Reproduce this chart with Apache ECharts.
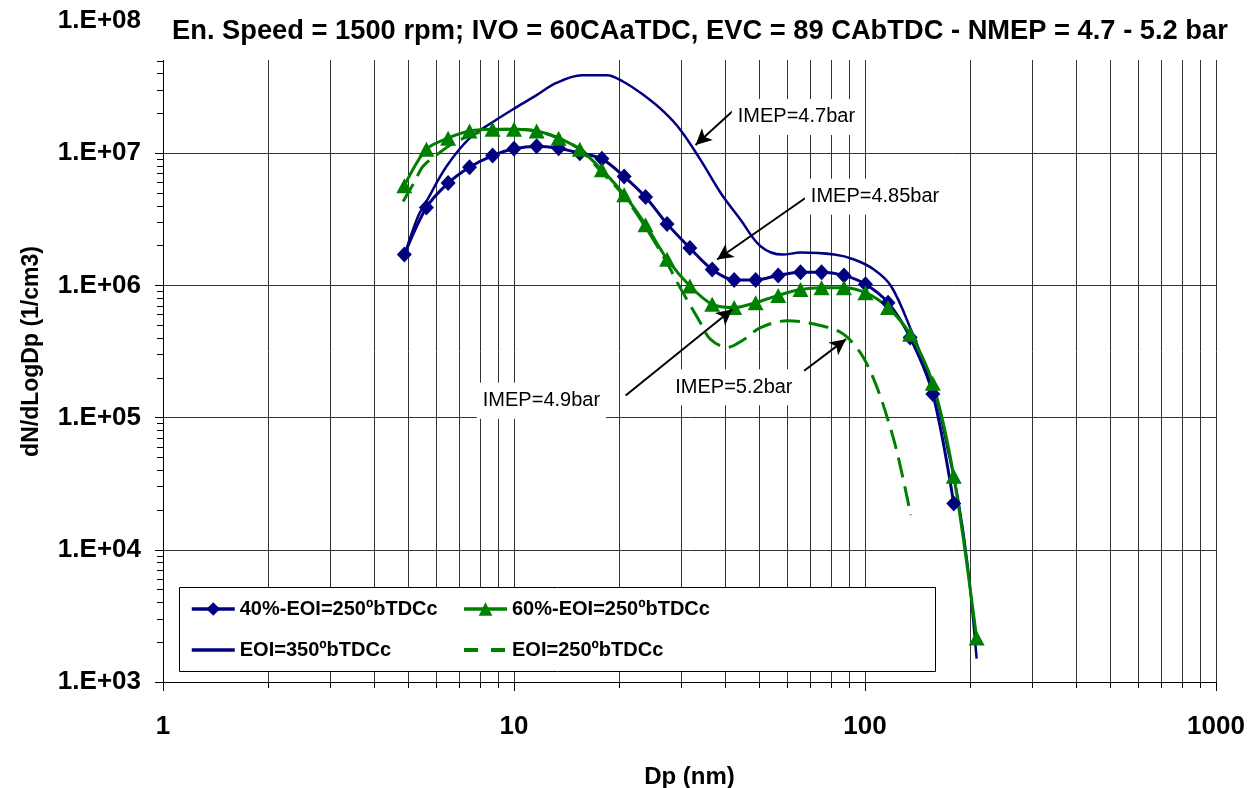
<!DOCTYPE html>
<html><head><meta charset="utf-8">
<script src="https://cdn.jsdelivr.net/npm/echarts@6/dist/echarts.min.js"></script>
<style>html,body{margin:0;padding:0;background:#fff}#c{width:1252px;height:788px}</style>
</head><body><div id="c"></div>
<script>
// ---- data ----
const titleText = 'En. Speed = 1500 rpm; IVO = 60CAaTDC, EVC = 89 CAbTDC - NMEP = 4.7 - 5.2 bar';
const seriesNames = ['40%-EOI=250ºbTDCc', '60%-EOI=250ºbTDCc', 'EOI=350ºbTDCc', 'EOI=250ºbTDCc'];
const channels = [4.87,5.63,6.49,7.47,8.69,10.0,11.6,13.4,15.4,17.8,20.6,23.7,27.3,31.7,36.7,42.4,48.8,56.6,65.5,75.2,87.1,100.3,116.3,134.5,156,179,208];
const diamondY = [1.71e6,3.89e6,5.94e6,7.84e6,9.6e6,1.08e7,1.13e7,1.09e7,1.0e7,9.06e6,6.66e6,4.66e6,2.92e6,1.92e6,1.32e6,1.1e6,1.1e6,1.19e6,1.26e6,1.26e6,1.19e6,1.02e6,7.4e5,4.03e5,1.51e5,2.24e4];
const triangleY = [5.67e6,1.07e7,1.3e7,1.47e7,1.52e7,1.52e7,1.47e7,1.3e7,1.07e7,7.48e6,4.85e6,2.88e6,1.58e6,9.9e5,7.19e5,6.8e5,7.4e5,8.4e5,9.3e5,9.6e5,9.6e5,8.8e5,6.8e5,4.27e5,1.82e5,3.6e4,2.15e3];
const eoi350X = [4.88,5.33,5.63,6.42,7.48,8.73,10.2,11.6,13.2,15.6,18.4,20.5,23.4,26.7,29.8,34.0,38.8,44.2,50.4,58.2,65.6,81.7,93.1,106,118.6,135,158,172,184,196,208];
const eoi350Y = [1.71e6,3.33e6,4.32e6,7.93e6,1.3e7,1.73e7,2.24e7,2.75e7,3.4e7,3.89e7,3.89e7,3.47e7,2.75e7,2.06e7,1.5e7,8.9e6,5.0e6,3.14e6,1.98e6,1.71e6,1.77e6,1.71e6,1.57e6,1.32e6,9.9e5,4.66e5,1.55e5,5.8e4,2.45e4,7.7e3,1.5e3];
const eoi250X = [4.83,5.21,5.5,6.01,7.0,8.69,10.0,11.6,13.4,15.4,17.6,20.5,23.6,27.2,29.2,31.1,34.0,36.3,40.5,45.2,50.4,60.1,71.6,85.4,95.3,101.8,108.7,116,124,135];
const eoi250Y = [4.32e6,6.1e6,7.93e6,9.7e6,1.26e7,1.5e7,1.52e7,1.47e7,1.3e7,1.07e7,7.4e6,4.8e6,2.8e6,1.5e6,1.05e6,7.8e5,5.2e5,3.9e5,3.4e5,3.9e5,4.8e5,5.4e5,5.1e5,4.4e5,3.3e5,2.47e5,1.64e5,9.8e4,5.2e4,1.83e4];
const annotationTexts = ['IMEP=4.7bar', 'IMEP=4.85bar', 'IMEP=4.9bar', 'IMEP=5.2bar'];
const annotationTextAt = [[43.4,1.88e7],[70.1,4.69e6],[8.15,1.34e5],[28.8,1.70e5]];
const annotationTail = [[42.3,2.12e7],[67.8,4.6e6],[20.8,1.47e5],[67.1,2.26e5]];
const annotationHead = [[32.9,1.155e7],[37.9,1.57e6],[41.9,6.6e5],[88.3,3.92e5]];
const xName = 'Dp (nm)';
const yName = 'dN/dLogDp (1/cm3)';

// ---- chart ----
const FONT = "'Liberation Sans', Arial, sans-serif";
const NAVY = '#000080', GREEN = '#008000';
const zip = (xs, ys) => ys.map((y, i) => [xs[i], y]);

const chart = echarts.init(document.getElementById('c'), null, {renderer: 'canvas'});
const legendText = {fontSize: 20, fontWeight: 'bold', fontFamily: FONT, color: '#000', lineHeight: 24};
const noSymbol = {color: 'rgba(0,0,0,0)', borderWidth: 0, opacity: 0};
const legendCommon = {orient: 'vertical', top: 597, itemWidth: 43, itemHeight: 17, itemGap: 17,
  textStyle: legendText, z: 6, padding: 0};
const option = {
  animation: false,
  backgroundColor: '#fff',
  title: {text: titleText, left: 167, top: 13, z: 20,
    textStyle: {fontSize: 27.3, fontWeight: 'bold', fontFamily: FONT, color: '#000'}},
  grid: {left: 163, right: 36, top: 21, bottom: 106, containLabel: false, outerBoundsMode: 'none'},
  legend: [
    Object.assign({}, legendCommon, {left: 190, data: [
      {name: seriesNames[0], lineStyle: {width: 3.5}},
      {name: seriesNames[2], lineStyle: {width: 3.5}, itemStyle: noSymbol}]}),
    Object.assign({}, legendCommon, {left: 462, data: [
      {name: seriesNames[1], lineStyle: {width: 3.5}},
      {name: seriesNames[3], lineStyle: {width: 4, type: [14, 13]}, itemStyle: noSymbol}]})
  ],
  xAxis: {
    type: 'log', logBase: 10, min: 1, max: 1000,
    name: xName, nameLocation: 'middle', nameGap: 83,
    nameTextStyle: {fontSize: 24, fontWeight: 'bold', fontFamily: FONT, color: '#000'},
    axisLine: {show: true, lineStyle: {color: '#000', width: 1}},
    axisTick: {show: true, inside: false, length: 9, lineStyle: {color: '#000'}},
    minorTick: {show: true, splitNumber: 9, length: 6, lineStyle: {color: '#000'}},
    splitLine: {show: true, lineStyle: {color: '#333', width: 1}},
    minorSplitLine: {show: true, lineStyle: {color: '#333', width: 1}},
    axisLabel: {margin: 32, fontSize: 26, fontWeight: 'bold', fontFamily: FONT, color: '#000',
      formatter: v => String(Math.round(v))}
  },
  yAxis: {
    type: 'log', logBase: 10, min: 1e3, max: 1e8,
    name: yName, nameLocation: 'middle', nameGap: 120, nameRotate: 90,
    nameTextStyle: {fontSize: 23, fontWeight: 'bold', fontFamily: FONT, color: '#000'},
    axisLine: {show: true, lineStyle: {color: '#000', width: 1}},
    axisTick: {show: true, inside: false, length: 8, lineStyle: {color: '#000'}},
    minorTick: {show: true, splitNumber: 9, length: 6, lineStyle: {color: '#000'}},
    splitLine: {show: true, lineStyle: {color: '#333', width: 1}},
    minorSplitLine: {show: false},
    axisLabel: {margin: 22, fontSize: 26, fontWeight: 'bold', fontFamily: FONT, color: '#000',
      formatter: v => '1.E+' + String(Math.round(Math.log10(v))).padStart(2, '0')}
  },
  series: [
    {name: seriesNames[0], type: 'line', data: zip(channels, diamondY), smooth: 0.3,
     symbol: 'diamond', symbolSize: [15, 16], showAllSymbol: true,
     lineStyle: {color: NAVY, width: 3}, itemStyle: {color: NAVY}, z: 3},
    {name: seriesNames[1], type: 'line', data: zip(channels, triangleY), smooth: 0.3,
     symbol: 'triangle', symbolSize: [16, 15], showAllSymbol: true,
     lineStyle: {color: GREEN, width: 3}, itemStyle: {color: GREEN}, z: 3},
    {name: seriesNames[2], type: 'line', data: zip(eoi350X, eoi350Y), smooth: 0.35,
     symbol: 'none', lineStyle: {color: NAVY, width: 2.5}, itemStyle: {color: NAVY}, z: 2},
    {name: seriesNames[3], type: 'line', data: zip(eoi250X, eoi250Y), smooth: 0.35,
     symbol: 'none', lineStyle: {color: GREEN, width: 3, type: [20, 9]}, itemStyle: {color: GREEN}, z: 2},
    {name: 'arrows', type: 'line', data: [], z: 4,
     markLine: {silent: true, symbol: ['none', 'arrow'], symbolSize: [12, 16], animation: false,
       lineStyle: {color: '#000', width: 2, type: 'solid'}, label: {show: false},
       data: annotationTail.map((t, i) => [{coord: t}, {coord: annotationHead[i]}])}}
  ]
};
chart.setOption(option);

// graphics: top cover, legend box, annotation text boxes (positioned through the axes)
const graphics = [
  {type: 'rect', shape: {x: 148, y: 0, width: 1104, height: 60}, style: {fill: '#fff'}, z: 10, silent: true},
  {type: 'rect', shape: {x: 179.5, y: 587.5, width: 756, height: 84}, style: {fill: '#fff', stroke: '#000', lineWidth: 1}, z: 3, silent: true}
];
annotationTexts.forEach((t, i) => {
  const p = chart.convertToPixel({gridIndex: 0}, annotationTextAt[i]);
  graphics.push({type: 'text', x: p[0] - 6, y: p[1], z: 5, silent: true,
    style: {text: t, fontSize: 20, fontFamily: FONT, fill: '#000', backgroundColor: '#fff',
      padding: [8, 6, 8, 6], verticalAlign: 'middle', align: 'left'}});
});
chart.setOption({graphic: graphics});
</script></body></html>
